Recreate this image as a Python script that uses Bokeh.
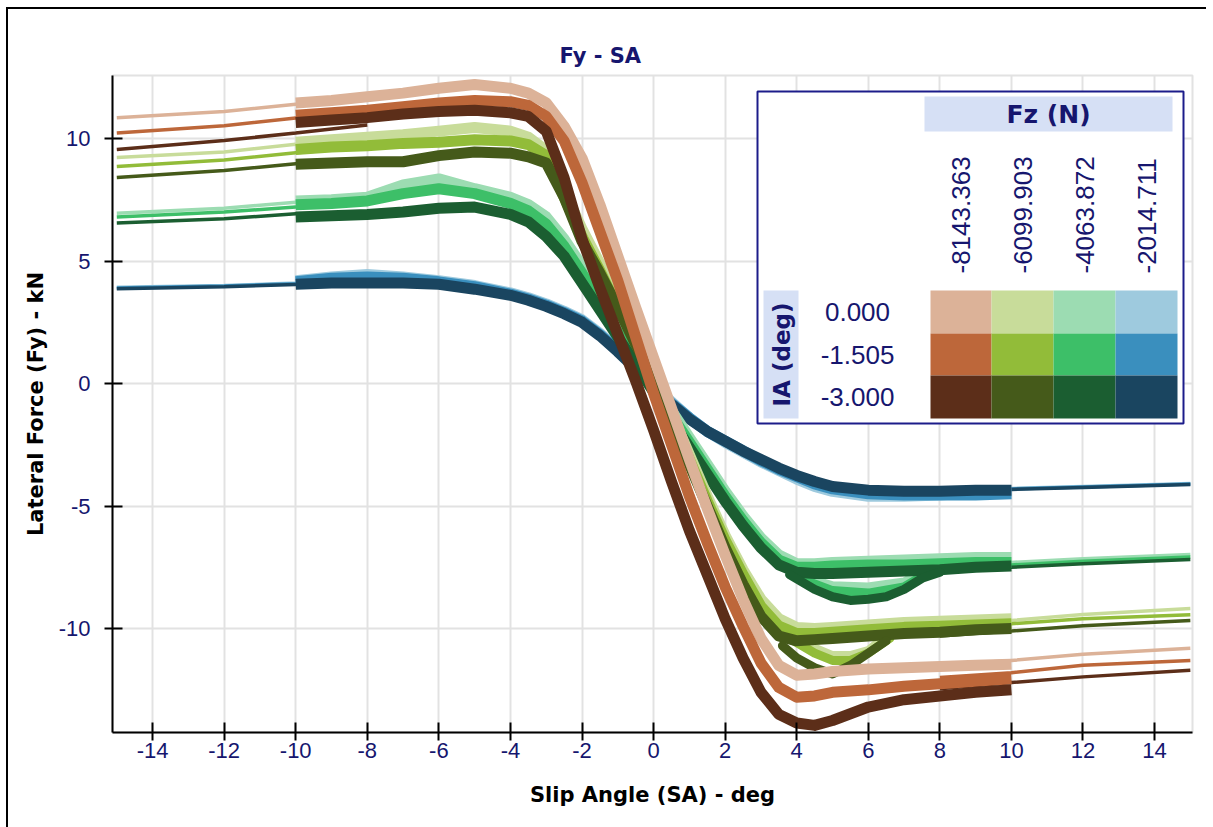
from math import pi
from bokeh.plotting import figure
from bokeh.models import Range1d, Label, BoxAnnotation, FixedTicker, InlineStyleSheet
from bokeh.embed import file_html
from bokeh.resources import INLINE

# ---------------- data ----------------
FZ_LABELS = ["-8143.363", "-6099.903", "-4063.872", "-2014.711"]
IA_LABELS = ["0.000", "-1.505", "-3.000"]
COLORS = [  # rows: IA, cols: Fz
    ["#dcb298", "#c8dc9a", "#9cdcb2", "#9ecade"],
    ["#bd673a", "#92bc39", "#3dbf68", "#3a8fbe"],
    ["#5c2e19", "#455a1a", "#1b5e31", "#1a4560"],
]
X_TICKS = [-14, -12, -10, -8, -6, -4, -2, 0, 2, 4, 6, 8, 10, 12, 14]
Y_TICKS = [-10, -5, 0, 5, 10]

# measured slip-angle sweep (deg)
SA_MEAS = [-10, -9, -8, -7, -6, -5, -4, -3.5, -3, -2.5, -2, -1.5, -1, -0.5, 0,
           0.5, 1, 1.5, 2, 2.5, 3, 3.5, 4, 4.5, 5, 6, 7, 8, 9, 10]

# measured Fy (kN) : Fz -8143.363
fy_m8143_ia0 = [11.45, 11.55, 11.7, 11.85, 12.05, 12.2, 12.05, 11.85, 11.45, 10.5, 9.2, 7.3, 5.2, 3.1, 1.05,
                -1.0, -3.1, -5.1, -7.0, -8.8, -10.4, -11.5, -11.9, -11.85, -11.75, -11.65, -11.6, -11.55, -11.5, -11.45]
fy_m8143_ia1 = [10.95, 11.05, 11.15, 11.3, 11.45, 11.55, 11.5, 11.35, 10.9, 9.9, 8.2, 6.2, 4.2, 1.9, -0.4,
                -2.5, -4.6, -6.5, -8.3, -9.9, -11.4, -12.4, -12.8, -12.75, -12.6, -12.5, -12.35, -12.25, -12.15, -12.05]
fy_m8143_ia2 = [10.65, 10.75, 10.85, 11.0, 11.1, 11.15, 11.05, 10.9, 10.3, 8.4, 5.9, 3.9, 2.0, 0.1, -1.9,
                -4.0, -6.0, -7.8, -9.6, -11.2, -12.6, -13.5, -13.85, -13.95, -13.75, -13.2, -12.9, -12.75, -12.6, -12.5]
# Fz -6099.903
fy_m6100_ia0 = [9.85, 9.95, 10.05, 10.15, 10.3, 10.45, 10.3, 10.05, 9.5, 7.9, 6.3, 4.9, 3.5, 2.0, 0.6,
                -1.2, -2.9, -4.6, -6.2, -7.6, -8.8, -9.6, -9.95, -10.0, -9.95, -9.85, -9.75, -9.7, -9.65, -9.6]
fy_m6100_ia1 = [9.55, 9.65, 9.7, 9.8, 9.85, 9.95, 9.9, 9.75, 9.3, 7.6, 6.0, 4.6, 3.1, 1.7, 0.3,
                -1.4, -3.1, -4.8, -6.4, -7.8, -9.1, -9.9, -10.2, -10.2, -10.15, -10.05, -9.95, -9.9, -9.85, -9.8]
fy_m6100_ia2 = [8.95, 9.0, 9.05, 9.05, 9.3, 9.45, 9.4, 9.25, 9.0, 7.6, 5.8, 4.5, 3.1, 1.6, 0.2,
                -1.6, -3.3, -5.0, -6.7, -8.2, -9.5, -10.3, -10.5, -10.45, -10.4, -10.3, -10.2, -10.15, -10.05, -10.0]
# Fz -4063.872
fy_m4064_ia0 = [7.45, 7.5, 7.6, 8.1, 8.35, 7.95, 7.6, 7.3, 6.8, 5.9, 4.8, 3.6, 2.4, 1.2, 0.1,
                -1.1, -2.2, -3.3, -4.4, -5.4, -6.3, -7.0, -7.35, -7.35, -7.3, -7.25, -7.2, -7.15, -7.1, -7.1]
fy_m4064_ia1 = [7.3, 7.35, 7.45, 7.75, 7.95, 7.75, 7.35, 7.05, 6.5, 5.6, 4.5, 3.3, 2.1, 0.9, -0.2,
                -1.3, -2.4, -3.5, -4.6, -5.6, -6.5, -7.2, -7.5, -7.5, -7.45, -7.4, -7.4, -7.35, -7.3, -7.3]
fy_m4064_ia2 = [6.8, 6.85, 6.9, 7.0, 7.15, 7.2, 6.9, 6.6, 6.0, 5.2, 4.1, 3.0, 1.9, 0.8, -0.35,
                -1.5, -2.6, -3.7, -4.8, -5.8, -6.7, -7.4, -7.7, -7.75, -7.75, -7.7, -7.65, -7.6, -7.5, -7.45]
# Fz -2014.711
fy_m2015_ia0 = [4.2, 4.35, 4.45, 4.35, 4.2, 4.0, 3.7, 3.5, 3.25, 2.95, 2.6, 2.05, 1.4, 0.7, -0.05,
                -0.75, -1.4, -1.95, -2.4, -2.8, -3.2, -3.55, -3.9, -4.2, -4.4, -4.6, -4.6, -4.55, -4.45, -4.4]
fy_m2015_ia1 = [4.15, 4.3, 4.35, 4.3, 4.15, 3.95, 3.65, 3.45, 3.2, 2.9, 2.55, 2.0, 1.35, 0.65, -0.1,
                -0.8, -1.4, -1.95, -2.35, -2.75, -3.15, -3.5, -3.8, -4.1, -4.3, -4.5, -4.55, -4.55, -4.55, -4.5]
fy_m2015_ia2 = [4.05, 4.1, 4.1, 4.1, 4.05, 3.85, 3.6, 3.4, 3.15, 2.85, 2.5, 1.95, 1.3, 0.6, -0.15,
                -0.85, -1.45, -1.95, -2.35, -2.75, -3.1, -3.45, -3.75, -4.0, -4.2, -4.35, -4.4, -4.4, -4.35, -4.35]

# return-sweep loops after the peak (SA, Fy)
loop_m6100_ia0_sa = [3.8, 4.5, 5, 5.5, 6, 6.5]
loop_m6100_ia0_fy = [-10.1, -10.8, -11.1, -11.1, -10.9, -10.3]
loop_m6100_ia1_sa = [3.8, 4.5, 5, 5.5, 6, 6.6]
loop_m6100_ia1_fy = [-10.4, -11.0, -11.3, -11.3, -11.0, -10.4]
loop_m6100_ia2_sa = [3.6, 4, 4.5, 5, 5.5, 6, 6.5]
loop_m6100_ia2_fy = [-10.7, -11.2, -11.6, -11.85, -11.5, -11.0, -10.5]
loop_m4064_ia0_sa = [4.2, 5, 6, 7, 7.6]
loop_m4064_ia0_fy = [-7.9, -8.25, -8.3, -8.1, -7.6]
loop_m4064_ia1_sa = [4.0, 5, 6, 7, 7.7]
loop_m4064_ia1_fy = [-7.9, -8.45, -8.55, -8.3, -7.7]
loop_m4064_ia2_sa = [3.8, 4.5, 5, 5.5, 6, 6.5, 7, 7.5, 8]
loop_m4064_ia2_fy = [-7.8, -8.4, -8.7, -8.85, -8.8, -8.7, -8.4, -7.95, -7.7]

# fitted model tails (thin lines)
SA_FIT_LEFT = [-15, -12, -10, -8]
SA_FIT_RIGHT = [8, 10, 12, 15]
fit_left = {
    (0, 0): [10.85, 11.1, 11.4, 11.6], (1, 0): [10.22, 10.52, 10.84, 11.05], (2, 0): [9.55, 9.92, 10.22, 10.55],
    (0, 1): [9.22, 9.45, 9.76, 10.0], (1, 1): [8.86, 9.12, 9.42, 9.65], (2, 1): [8.41, 8.69, 8.97, 9.1],
    (0, 2): [6.95, 7.15, 7.4, 7.55], (1, 2): [6.8, 7.0, 7.2, 7.4], (2, 2): [6.55, 6.72, 6.93, 6.95],
    (0, 3): [3.93, 4.0, 4.1, 4.3], (1, 3): [3.9, 3.98, 4.07, 4.25], (2, 3): [3.87, 3.95, 4.04, 4.1],
}
fit_right = {
    (0, 0): [-11.5, -11.3, -11.05, -10.8], (1, 0): [-12.0, -11.8, -11.5, -11.3], (2, 0): [-12.45, -12.2, -11.97, -11.7],
    (0, 1): [-9.85, -9.67, -9.42, -9.18], (1, 1): [-10.0, -9.8, -9.6, -9.43], (2, 1): [-10.3, -10.1, -9.88, -9.67],
    (0, 2): [-7.45, -7.3, -7.15, -6.98], (1, 2): [-7.55, -7.4, -7.25, -7.08], (2, 2): [-7.65, -7.5, -7.35, -7.18],
    (0, 3): [-4.4, -4.28, -4.2, -4.08], (1, 3): [-4.45, -4.3, -4.22, -4.1], (2, 3): [-4.45, -4.32, -4.24, -4.12],
}
meas = {
    (0, 0): fy_m8143_ia0, (1, 0): fy_m8143_ia1, (2, 0): fy_m8143_ia2,
    (0, 1): fy_m6100_ia0, (1, 1): fy_m6100_ia1, (2, 1): fy_m6100_ia2,
    (0, 2): fy_m4064_ia0, (1, 2): fy_m4064_ia1, (2, 2): fy_m4064_ia2,
    (0, 3): fy_m2015_ia0, (1, 3): fy_m2015_ia1, (2, 3): fy_m2015_ia2,
}
loops = {
    (0, 1): (loop_m6100_ia0_sa, loop_m6100_ia0_fy), (1, 1): (loop_m6100_ia1_sa, loop_m6100_ia1_fy),
    (2, 1): (loop_m6100_ia2_sa, loop_m6100_ia2_fy),
    (0, 2): (loop_m4064_ia0_sa, loop_m4064_ia0_fy), (1, 2): (loop_m4064_ia1_sa, loop_m4064_ia1_fy),
    (2, 2): (loop_m4064_ia2_sa, loop_m4064_ia2_fy),
}

# ---------------- figure ----------------
NAVY = "#16166e"
W, H = 1213, 827
border_css = InlineStyleSheet(css="""
:host { position: relative; }
:host::after { content: ''; position: absolute; left: 6px; top: 7px; right: 7px; bottom: 0px;
  border-left: 2px solid black; border-top: 2px solid black; pointer-events: none; z-index: 50; }
""")
p = figure(width=W, height=H, x_range=Range1d(-15.12, 15.06), y_range=Range1d(-14.24, 12.57),
           output_backend="svg", toolbar_location=None,
           min_border_left=112, min_border_right=21, min_border_top=75, min_border_bottom=95)
p.stylesheets = [border_css]
p.background_fill_color = "white"
p.border_fill_color = "white"
p.outline_line_color = "#e2e2e2"
p.outline_line_width = 2

p.title.text = "Fy  - SA"
p.title.align = "left"
p.title.offset = 447
p.title.standoff = 15
p.title.text_font = "DejaVu Sans"
p.title.text_font_style = "bold"
p.title.text_font_size = "21px"
p.title.text_color = NAVY

for ax in (p.xaxis[0], p.yaxis[0]):
    ax.axis_line_color = "black"
    ax.axis_line_width = 2
    ax.major_tick_line_color = "black"
    ax.major_tick_line_width = 2
    ax.major_tick_in = 10
    ax.major_tick_out = 8
    ax.minor_tick_line_color = None
    ax.major_label_text_font = "Liberation Sans"
    ax.major_label_text_font_size = "22px"
    ax.major_label_text_color = NAVY
    ax.axis_label_text_font = "DejaVu Sans"
    ax.axis_label_text_font_style = "bold"
    ax.axis_label_text_font_size = "21px"
    ax.axis_label_text_color = "black"

p.xaxis.ticker = FixedTicker(ticks=X_TICKS)
p.yaxis.ticker = FixedTicker(ticks=Y_TICKS)
p.xaxis.major_label_overrides = {t: str(t) for t in X_TICKS}
p.yaxis.major_label_overrides = {t: str(t) for t in Y_TICKS}
p.xaxis.axis_label = "Slip Angle (SA) - deg"
p.yaxis.axis_label = "Lateral Force (Fy) - kN"
p.xaxis.major_label_standoff = 2
p.yaxis.major_label_standoff = 14
p.xaxis.axis_label_standoff = 22
p.yaxis.axis_label_standoff = 8

p.xgrid.ticker = FixedTicker(ticks=X_TICKS)
p.ygrid.ticker = FixedTicker(ticks=Y_TICKS)
p.grid.grid_line_color = "#e2e2e2"
p.grid.grid_line_width = 2

# fitted tails
for col in (3, 2, 1, 0):
    for row in (0, 1, 2):
        c = COLORS[row][col]
        p.line(SA_FIT_LEFT, fit_left[(row, col)], line_color=c, line_width=3.5)
        p.line(SA_FIT_RIGHT, fit_right[(row, col)], line_color=c, line_width=3.5)

# measured sweeps
for col in (3, 2, 1, 0):
    for row in (0, 1, 2):
        c = COLORS[row][col]
        p.line(SA_MEAS, meas[(row, col)], line_color=c, line_width=11, line_join="round")
        if (row, col) in loops:
            lsa, lfy = loops[(row, col)]
            p.line(lsa, lfy, line_color=c, line_width=9, line_join="round", line_cap="round")

# ---------------- legend (canvas pixel layout, inside the frame) ----------------
def box(l, r, t, b, fill, line=None, lw=0):
    p.add_layout(BoxAnnotation(left=l, right=r, top=t, bottom=b,
                               left_units="canvas", right_units="canvas",
                               top_units="canvas", bottom_units="canvas",
                               fill_color=fill, fill_alpha=1.0 if fill else 0,
                               line_color=line, line_width=lw, line_alpha=1.0 if line else 0))

def label(x, y, text, size, bold=False, angle=0, align="center", baseline="middle", color=NAVY,
          font="Liberation Sans"):
    p.add_layout(Label(x=x, y=y, x_units="canvas", y_units="canvas", text=text, angle=angle,
                       text_font=font, text_font_size=size, text_color=color,
                       text_font_style="bold" if bold else "normal",
                       text_align=align, text_baseline=baseline))

box(757, 1183, 91, 423, "white", "#1c1c8a", 2)
box(924, 1172, 96, 131, "#d6e0f5")
label(1048, 114, "Fz (N)", "25px", bold=True, font="DejaVu Sans")
col_x = [930, 991, 1053, 1115, 1177]
row_y = [290, 333, 375, 418]
for j, t in enumerate(FZ_LABELS):
    label((col_x[j] + col_x[j + 1]) / 2, 273, t, "26px", angle=pi / 2, align="left")
for i, t in enumerate(IA_LABELS):
    label(857, (row_y[i] + row_y[i + 1]) / 2, t, "26px")
    for j in range(4):
        box(col_x[j], col_x[j + 1], row_y[i], row_y[i + 1], COLORS[i][j])
box(763, 798, 290, 418, "#d6e0f5")
label(781, 354, "IA (deg)", "23px", bold=True, angle=pi / 2, font="DejaVu Sans")

open("out.html", "w").write(file_html(p, INLINE))
